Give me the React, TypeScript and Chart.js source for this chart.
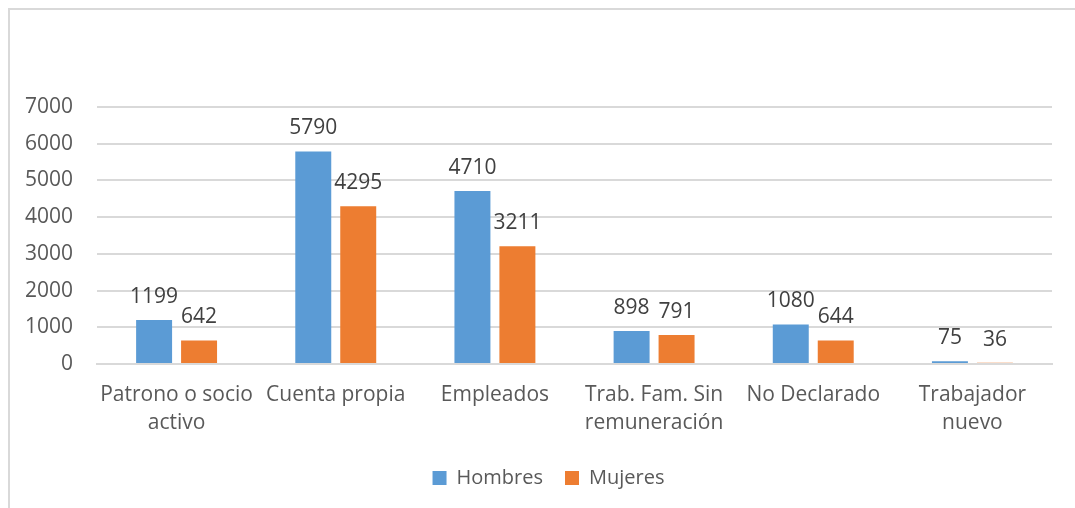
import React, { useEffect, useRef } from "react";
import { Chart, registerables } from "chart.js";

Chart.register(...registerables);

const categories: string[][] = [
  ["Patrono o socio", "activo"],
  ["Cuenta propia"],
  ["Empleados"],
  ["Trab. Fam. Sin", "remuneración"],
  ["No Declarado"],
  ["Trabajador", "nuevo"],
];
const hombres = [1199, 5790, 4710, 898, 1080, 75];
const mujeres = [642, 4295, 3211, 791, 644, 36];
const yTicks = [0, 1000, 2000, 3000, 4000, 5000, 6000, 7000];
const seriesNames = ["Hombres", "Mujeres"];

const FONT = "'Open Sans', sans-serif";

const valueLabels = {
  id: "valueLabels",
  afterDatasetsDraw(chart: any) {
    const ctx = chart.ctx;
    ctx.save();
    ctx.font = `21px ${FONT}`;
    ctx.fillStyle = "#404040";
    ctx.textAlign = "center";
    ctx.textBaseline = "alphabetic";
    chart.data.datasets.forEach((ds: any, i: number) => {
      const meta = chart.getDatasetMeta(i);
      meta.data.forEach((el: any, j: number) => {
        ctx.fillText(String(ds.data[j]), el.x, el.y - 17);
      });
    });
    ctx.restore();
  },
};

export default function App() {
  const ref = useRef<HTMLCanvasElement | null>(null);
  useEffect(() => {
    if (!ref.current) return;
    const chart = new Chart(ref.current, {
      type: "bar",
      data: {
        labels: categories as any,
        datasets: [
          {
            label: seriesNames[0],
            data: hombres,
            backgroundColor: "#5b9bd5",
            categoryPercentage: 0.565,
            barPercentage: 0.8,
          },
          {
            label: seriesNames[1],
            data: mujeres,
            backgroundColor: "#ed7d31",
            categoryPercentage: 0.565,
            barPercentage: 0.8,
          },
        ],
      },
      options: {
        responsive: true,
        maintainAspectRatio: false,
        animation: false,
        layout: { padding: { top: 97, right: 0, left: 0, bottom: 10 } },
        plugins: {
          legend: {
            position: "bottom",
            labels: {
              boxWidth: 14,
              boxHeight: 14,
              padding: 22,
              color: "#595959",
              font: { family: FONT, size: 20 },
            },
          },
          tooltip: { enabled: false },
        },
        scales: {
          x: {
            grid: { display: false },
            border: { display: true, color: "#d9d9d9", width: 2 },
            ticks: {
              color: "#595959",
              font: { family: FONT, size: 21, lineHeight: 1.38 },
              padding: 8,
              maxRotation: 0,
              autoSkip: false,
            },
          },
          y: {
            min: 0,
            max: 7000,
            afterBuildTicks: (axis: any) => {
              axis.ticks = yTicks.map((v) => ({ value: v }));
            },
            afterFit: (axis: any) => {
              axis.width = 87;
            },
            grid: { color: "#d9d9d9", lineWidth: 2, drawTicks: false },
            border: { display: false },
            ticks: {
              color: "#595959",
              font: { family: FONT, size: 21 },
              padding: 24,
              callback: (v: any) => String(v),
            },
          },
          y2: {
            position: "right",
            display: true,
            grid: { display: false, drawTicks: false },
            border: { display: false },
            ticks: { display: false },
            afterFit: (axis: any) => {
              axis.width = 35;
            },
          },
        },
      },
      plugins: [valueLabels],
    });
    return () => chart.destroy();
  }, []);

  return (
    <div
      style={{
        position: "fixed",
        left: 8,
        top: 8,
        width: 1067,
        height: 500,
        overflow: "hidden",
      }}
    >
      <div
        style={{
          borderLeft: "2px solid #d9d9d9",
          borderTop: "2px solid #d9d9d9",
          width: 1100,
          height: 520,
          boxSizing: "border-box",
        }}
      >
        <div style={{ position: "relative", width: 1077, height: 498 }}>
          <canvas ref={ref} />
        </div>
      </div>
    </div>
  );
}
